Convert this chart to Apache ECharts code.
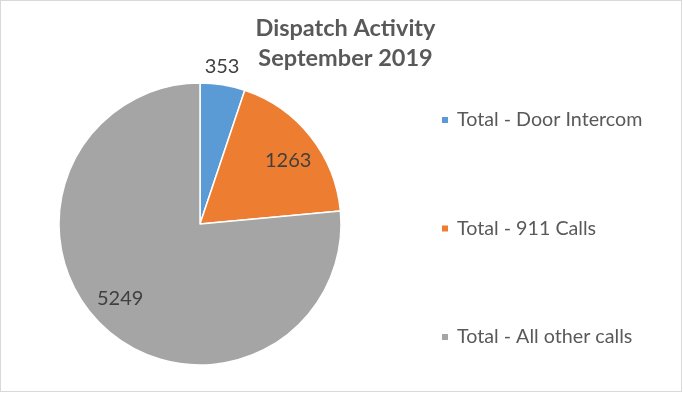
<!DOCTYPE html>
<html>
<head>
<meta charset="utf-8">
<script src="https://cdn.jsdelivr.net/npm/echarts@6/dist/echarts.min.js"></script>
<style>
html,body{margin:0;padding:0;background:#fff;}
#frame{position:absolute;left:0;top:0;width:682px;height:392px;box-sizing:border-box;border:1px solid #d9d9d9;}
#chart{position:absolute;left:0;top:0;width:683px;height:394px;}
</style>
</head>
<body>
<div id="chart"></div>
<div id="frame"></div>
<script>
const titleLines = ['Dispatch Activity', 'September 2019'];
const categories = ['Total - Door Intercom', 'Total - 911 Calls', 'Total - All other calls'];
const values = [353, 1263, 5249];
const colors = ['#5b9bd5', '#ed7d31', '#a5a5a5'];
// fine nudges for data-label placement (Excel "best fit")
const labelNudges = [[-24, -12], [0, 6], [-4, -9]];

const FONT = 'Lato';
const chart = echarts.init(document.getElementById('chart'), null, {renderer: 'canvas'});
const pieData = categories.map((c, i) => ({name: c, value: values[i], itemStyle: {color: colors[i]}}));
const labelData = categories.map((c, i) => {
  const d = {name: c, value: values[i]};
  if (i === 0) {
    d.label = {position: 'outside'};
    d.labelLine = {show: false, length: 6, length2: 0};
  }
  return d;
});
chart.setOption({
  animation: false,
  title: {
    text: titleLines.join('\n'),
    left: 340.5, top: 8, textAlign: 'center',
    textStyle: {fontFamily: FONT, fontWeight: 'bold', fontSize: 23.5, lineHeight: 30, color: '#595959'}
  },
  legend: {
    orient: 'vertical', left: 435, top: 105,
    itemWidth: 8, itemHeight: 8, itemGap: 88.5, icon: 'rect',
    data: categories,
    textStyle: {fontFamily: FONT, fontSize: 19.7, lineHeight: 20, color: '#595959', padding: [0, 0, 0, 3]}
  },
  series: [
    {
      type: 'pie', center: [200, 224], radius: [0, 141], startAngle: 90, clockwise: true,
      data: pieData, label: {show: false}, labelLine: {show: false},
      itemStyle: {borderColor: '#fff', borderWidth: 1.5},
      emphasis: {disabled: true}
    },
    {
      type: 'pie', center: [200, 224], radius: [78, 141], startAngle: 90, clockwise: true,
      data: labelData, silent: true, legendHoverLink: false,
      itemStyle: {color: 'rgba(0,0,0,0)', borderWidth: 0},
      label: {show: true, position: 'inside', formatter: '{c}', fontFamily: FONT, fontSize: 20, color: '#404040'},
      labelLine: {show: false},
      labelLayout: (p) => ({dx: labelNudges[p.dataIndex][0], dy: labelNudges[p.dataIndex][1]}),
      emphasis: {disabled: true}
    }
  ]
});
</script>
</body>
</html>
